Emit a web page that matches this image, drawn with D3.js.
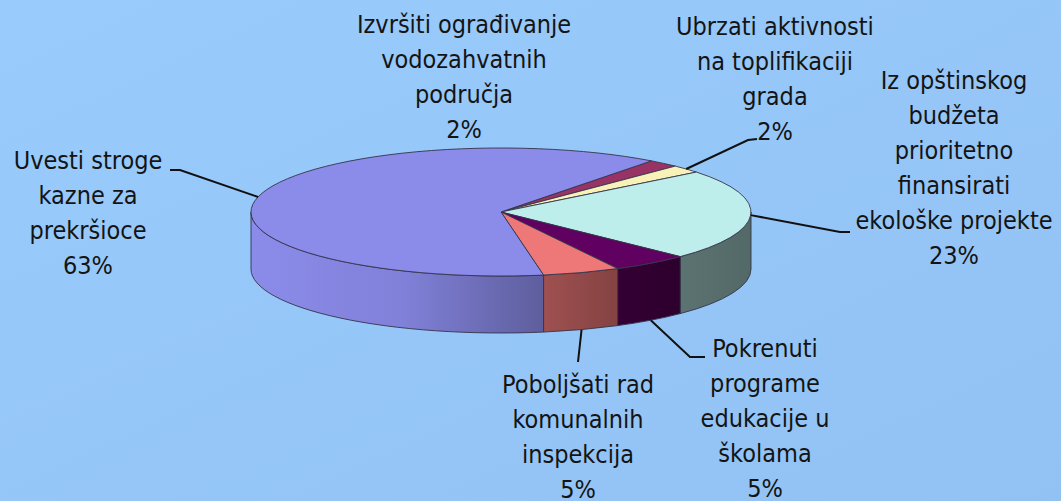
<!doctype html>
<html lang="sr">
<head>
	<meta charset="utf-8">
	<title>Prioriteti - 3D pita</title>
	<style>
html, body {
	margin: 0;
	padding: 0;
	width: 100%;
	height: 100%;
	overflow: hidden;
}
#chart svg {
	display: block;
}
#chart text {
	font-family: 'Liberation Sans Narrow', 'DejaVu Sans Condensed', 'Open Sans', sans-serif;
	font-size: 25px;
	fill: #141414;
}
#chart .leader {
	stroke: #111;
	stroke-width: 2px;
	fill: none;
}
#chart .face {
	stroke: #34344a;
	stroke-width: 0.9px;
	stroke-linejoin: round;
}
	</style>
</head>
<body>
	<div id="chart"></div>

	<script src="https://cdn.jsdelivr.net/npm/d3@7"></script>
	<script>
(function _pie3d(d3) {

	'use strict';

	/* DATA */

	var categories = [
		['Izvršiti ograđivanje', 'vodozahvatnih', 'područja'],
		['Ubrzati aktivnosti', 'na toplifikaciji', 'grada'],
		['Iz opštinskog', 'budžeta', 'prioritetno', 'finansirati', 'ekološke projekte'],
		['Pokrenuti', 'programe', 'edukacije u', 'školama'],
		['Poboljšati rad', 'komunalnih', 'inspekcija'],
		['Uvesti stroge', 'kazne za', 'prekršioce']
	];

	var values = [2, 2, 23, 5, 5, 63];

	/* CONST */

	var WIDTH = 1061;
	var HEIGHT = 501;

	var colors = ['#993366', '#f8f2b8', '#bdeeec', '#600060', '#ee7777', '#8b8bea'];

	// ellipse of the top face, and the height of the rim
	var pie3d = {
		cx: 501,
		cy: 212,
		rx: 250,
		ry: 64,
		depth: 57,
		start: 37 * Math.PI / 180
	};

	var LINE_H = 35;

	// label block: centre x, first baseline, and the bend of the leader line
	var labelLayout = [
		{ x: 464, y: 33, leader: null },
		{ x: 775, y: 35, leader: [[748, 140], [757, 139]] },
		{ x: 954, y: 89, leader: [[840, 232], [850, 232]] },
		{ x: 765, y: 357, leader: [[690, 357], [705, 357]] },
		{ x: 578, y: 393, leader: [[578, 362]] },
		{ x: 88, y: 169, leader: [[180, 170], [170, 170]] }
	];

	/* UTILS */

	var pt = function (a, dy) {
		return [
			pie3d.cx + pie3d.rx * Math.sin(a),
			pie3d.cy - pie3d.ry * Math.cos(a) + (dy || 0)
		];
	};

	var arcTo = function (p, large, sweep) {
		return 'A' + pie3d.rx + ',' + pie3d.ry + ' 0 ' + large + ' ' + sweep + ' ' + p.join(',');
	};

	var topPath = function (d) {
		var large = d.endAngle - d.startAngle > Math.PI ? 1 : 0;
		return 'M' + pie3d.cx + ',' + pie3d.cy +
			'L' + pt(d.startAngle).join(',') +
			arcTo(pt(d.endAngle), large, 1) + 'Z';
	};

	// parts of a slice that lie on the front half of the rim
	var frontParts = function (d) {
		var parts = [];
		[0, 1].forEach(function (k) {
			var lo = Math.PI / 2 + 2 * Math.PI * k;
			var hi = 3 * Math.PI / 2 + 2 * Math.PI * k;
			var s = Math.max(d.startAngle, lo);
			var e = Math.min(d.endAngle, hi);
			if (e > s) {
				parts.push({ s: s, e: e, index: d.index });
			}
		});
		return parts;
	};

	var sidePath = function (p) {
		return 'M' + pt(p.s).join(',') +
			arcTo(pt(p.e), 0, 1) +
			'L' + pt(p.e, pie3d.depth).join(',') +
			arcTo(pt(p.s, pie3d.depth), 0, 0) + 'Z';
	};

	var shade = function (c, k) {
		var rgb = d3.rgb(c);
		return d3.rgb(rgb.r * k, rgb.g * k, rgb.b * k).formatHex();
	};

	/* DRAW */

	var draw = function () {
		var total = d3.sum(values);
		var pct = d3.format('.0%');
		var color = d3.scaleOrdinal().domain(d3.range(values.length)).range(colors);

		var arcs = d3.pie()
			.sort(null)
			.startAngle(pie3d.start)
			.endAngle(pie3d.start + 2 * Math.PI)(values);

		var svg = d3.select('#chart')
			.append('svg')
				.attr('width', WIDTH)
				.attr('height', HEIGHT);

		var defs = svg.append('defs');

		var bg = defs.append('linearGradient')
			.attr('id', 'bg')
			.attr('x1', 0).attr('y1', 0)
			.attr('x2', 1).attr('y2', 1);
		bg.append('stop').attr('offset', 0).attr('stop-color', '#99cbfd');
		bg.append('stop').attr('offset', 1).attr('stop-color', '#92c2f3');

		// side shading gets darker towards the right
		arcs.forEach(function (d, i) {
			var g = defs.append('linearGradient')
				.attr('id', 'side-' + i)
				.attr('gradientUnits', 'userSpaceOnUse')
				.attr('x1', pie3d.cx - pie3d.rx).attr('y1', 0)
				.attr('x2', pie3d.cx + pie3d.rx).attr('y2', 0);
			[[0, 1], [0.3, 0.93], [0.6, 0.66], [0.8, 0.5], [1, 0.44]].forEach(function (s) {
				g.append('stop')
					.attr('offset', s[0])
					.attr('stop-color', shade(color(i), s[1]));
			});
		});

		svg.append('rect')
			.attr('width', WIDTH)
			.attr('height', HEIGHT)
			.attr('fill', 'url(#bg)');

		var vis = svg.append('g');

		var sides = [];
		arcs.forEach(function (d) {
			sides = sides.concat(frontParts(d));
		});

		vis.selectAll('path.side')
			.data(sides).enter()
			.append('path')
			.attr('class', 'face side')
			.attr('d', sidePath)
			.attr('fill', function (p) { return 'url(#side-' + p.index + ')'; });

		vis.selectAll('path.top')
			.data(arcs).enter()
			.append('path')
			.attr('class', 'face top')
			.attr('d', topPath)
			.attr('fill', function (d) { return color(d.index); });

		// leader lines, from the rim to the label
		var line = d3.line();
		vis.selectAll('path.leader')
			.data(arcs.filter(function (d) { return labelLayout[d.index].leader; })).enter()
			.append('path')
			.attr('class', 'leader')
			.attr('d', function (d) {
				var mid = (d.startAngle + d.endAngle) / 2;
				var below = labelLayout[d.index].y > pie3d.cy + pie3d.ry;
				var start = pt(mid, below ? pie3d.depth : 0);
				return line([start].concat(labelLayout[d.index].leader));
			});

		var labels = vis.selectAll('text')
			.data(arcs).enter()
			.append('text')
			.attr('text-anchor', 'middle')
			.attr('x', function (d) { return labelLayout[d.index].x; })
			.attr('y', function (d) { return labelLayout[d.index].y; });

		labels.selectAll('tspan')
			.data(function (d) {
				return categories[d.index].concat([pct(d.data / total)])
					.map(function (s, k) { return { s: s, k: k, x: labelLayout[d.index].x }; });
			}).enter()
			.append('tspan')
			.attr('x', function (t) { return t.x; })
			.attr('dy', function (t) { return t.k ? LINE_H : 0; })
			.text(function (t) { return t.s; });
	};

	/* BOOTSTRAP */

	draw();

})(window.d3);
	</script>
</body>
</html>
